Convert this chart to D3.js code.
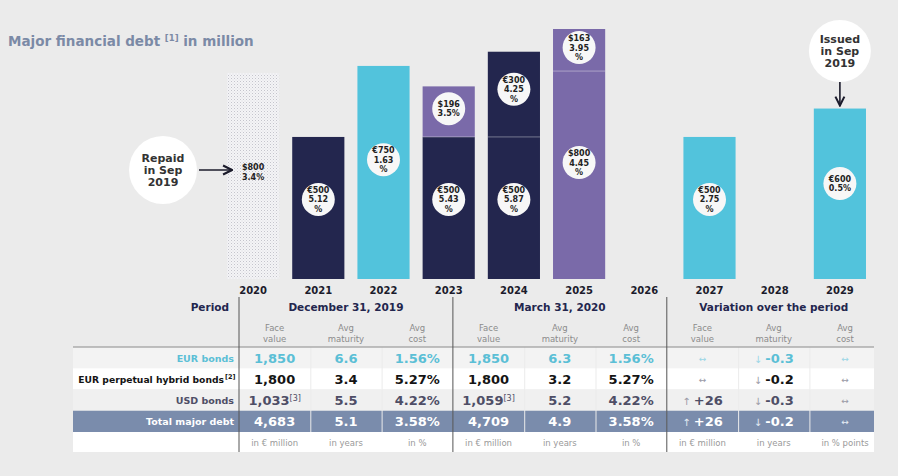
<!DOCTYPE html>
<html><head><meta charset="utf-8">
<script src="https://cdn.jsdelivr.net/npm/d3@7"></script>
<style>
html,body{margin:0;padding:0;background:#ebebeb;}
svg{display:block;font-family:"DejaVu Sans",Verdana,sans-serif;}
</style></head>
<body>
<svg id="chart" width="898" height="476"></svg>
<script>
// ---------- DATA ----------
const years = ["2020","2021","2022","2023","2024","2025","2026","2027","2028","2029"];
// bond segments (stacked per year, bottom first); heights in € million equivalent
const segYear  = ["2020","2021","2022","2023","2023","2024","2024","2025","2025","2027","2029"];
const segType  = ["repaid","hybrid","eur","hybrid","usd","hybrid","hybrid","usd","usd","eur","eur"];
const segFace  = ["$800","€500","€750","€500","$196","€500","€300","$800","$163","€500","€600"];
const segRate  = ["3.4%","5.12 %","1.63 %","5.43 %","3.5%","5.87 %","4.25 %","4.45 %","3.95 %","2.75 %","0.5%"];
const segValue = [725, 500, 750, 500, 178, 500, 300, 732, 148, 500, 600];

// table
const rowLabels = ["EUR bonds","EUR perpetual hybrid bonds","USD bonds","Total major debt"];
const rowNotes  = ["","[2]","",""];
const blockTitles = ["December 31, 2019","March 31, 2020","Variation over the period"];
const subHeaders = [["Face","value"],["Avg","maturity"],["Avg","cost"]];
const unitsLabels = ["in € million","in years","in %","in € million","in years","in %","in € million","in years","in % points"];
const dec2019Face = ["1,850","1,800","1,033","4,683"];
const dec2019Mat  = ["6.6","3.4","5.5","5.1"];
const dec2019Cost = ["1.56%","5.27%","4.22%","3.58%"];
const mar2020Face = ["1,850","1,800","1,059","4,709"];
const mar2020Mat  = ["6.3","3.2","5.2","4.9"];
const mar2020Cost = ["1.56%","5.27%","4.22%","3.58%"];
const faceNotes   = ["","","[3]",""];
const varFaceArrow = ["↔","↔","↑","↑"];
const varFace      = ["","","+26","+26"];
const varMatArrow  = ["↓","↓","↓","↓"];
const varMat       = ["-0.3","-0.2","-0.3","-0.2"];
const varCostArrow = ["↔","↔","↔","↔"];
const varCost      = ["","","",""];

// ---------- STYLE ----------
const colors = {eur:"#52c3dc", hybrid:"#23264e", usd:"#7a6aa9", repaid:"url(#dots)"};
const rowText = ["#5bbfd6","#141414","#4e4e66","#ffffff"];
const rowBg   = ["#f3f3f3","#ffffff","#f0f0f0","#7a8cac"];

const svg = d3.select("#chart");
const defs = svg.append("defs");
const pat = defs.append("pattern").attr("id","dots").attr("patternUnits","userSpaceOnUse")
  .attr("width",3).attr("height",3);
pat.append("rect").attr("width",3).attr("height",3).attr("fill","#f4f4f6");
pat.append("rect").attr("width",1).attr("height",1).attr("fill","#c4c4cc");
pat.append("rect").attr("x",1.5).attr("y",1.5).attr("width",1).attr("height",1).attr("fill","#d8d8de");
defs.append("marker").attr("id","arrow").attr("viewBox","0 0 10 10").attr("refX",9).attr("refY",5)
  .attr("markerWidth",7).attr("markerHeight",7).attr("orient","auto")
  .append("path").attr("d","M1,1 L9,5 L1,9").attr("fill","none").attr("stroke","#1b1b2b").attr("stroke-width",1.8);

// ---------- TITLE ----------
const title = svg.append("text").attr("x",8).attr("y",46).attr("fill","#7b8aa6")
  .attr("font-size",13.5).attr("font-weight","bold");
title.append("tspan").text("Major financial debt ");
title.append("tspan").attr("font-size",8.5).attr("dy",-5).text("[1]");
title.append("tspan").attr("dy",5).text(" in million");

// ---------- BARS ----------
const x = d3.scaleBand().domain(years).range([220.5, 872.5]).paddingInner(0.2).paddingOuter(0.1);
const y = d3.scaleLinear().domain([0, 880]).range([279, 29]);

const segs = segYear.map((yr,i)=>({yr, type:segType[i], face:segFace[i], rate:segRate[i], v:segValue[i]}));
const cum = {};
segs.forEach(s=>{ s.y0 = cum[s.yr]||0; s.y1 = s.y0 + s.v; cum[s.yr] = s.y1; });

const g = svg.append("g");
g.selectAll("rect.bar").data(segs).join("rect").attr("class","bar")
  .attr("x",d=>x(d.yr)).attr("width",x.bandwidth())
  .attr("y",d=>y(d.y1)).attr("height",d=>y(d.y0)-y(d.y1))
  .attr("fill",d=>colors[d.type]);
// thin divider lines between stacked segments
g.selectAll("line.div").data(segs.filter(d=>d.y0>0)).join("line")
  .attr("x1",d=>x(d.yr)).attr("x2",d=>x(d.yr)+x.bandwidth())
  .attr("y1",d=>y(d.y0)).attr("y2",d=>y(d.y0))
  .attr("stroke","rgba(255,255,255,0.35)").attr("stroke-width",1);

segs.forEach(d=>{
  const cx = x(d.yr)+x.bandwidth()/2;
  const h = y(d.y0)-y(d.y1);
  const cy = d.type==="repaid" ? (y(d.y0)+y(d.y1))/2 - 4 : y(d.y1) + 0.44*h;
  const lines = [d.face].concat(d.rate.split(" "));
  if (d.type!=="repaid") {
    g.append("circle").attr("cx",cx).attr("cy",cy).attr("r",16.5).attr("fill","#f7f7f7");
  }
  const lh = 9.5;
  lines.forEach((t,k)=>{
    g.append("text").attr("x",cx).attr("y",cy + (k-(lines.length-1)/2)*lh + 3)
      .attr("text-anchor","middle").attr("font-size",8).attr("font-weight","bold")
      .attr("fill","#222").text(t);
  });
});

// year labels
g.selectAll("text.yr").data(years).join("text").attr("class","yr")
  .attr("x",d=>x(d)+x.bandwidth()/2).attr("y",294).attr("text-anchor","middle")
  .attr("font-size",10).attr("font-weight","bold").attr("fill","#1b1b2b").text(d=>d);

// annotations
function bubble(cx,cy,r,lines){
  svg.append("circle").attr("cx",cx).attr("cy",cy).attr("r",r).attr("fill","#ffffff");
  lines.forEach((t,k)=>svg.append("text").attr("x",cx).attr("y",cy+(k-1)*12+4)
    .attr("text-anchor","middle").attr("font-size",11).attr("font-weight","bold").attr("fill","#333").text(t));
}
bubble(163,170,34,["Repaid","in Sep","2019"]);
svg.append("line").attr("x1",199).attr("x2",x("2020")+5).attr("y1",170).attr("y2",170)
  .attr("stroke","#1b1b2b").attr("stroke-width",1.6).attr("marker-end","url(#arrow)");
bubble(x("2029")+x.bandwidth()/2,51,31,["Issued","in Sep","2019"]);
svg.append("line").attr("x1",x("2029")+x.bandwidth()/2).attr("x2",x("2029")+x.bandwidth()/2)
  .attr("y1",82).attr("y2",y(600)-3)
  .attr("stroke","#1b1b2b").attr("stroke-width",1.6).attr("marker-end","url(#arrow)");

// ---------- TABLE ----------
const tL = 73, tR = 874, labelR = 239;
const col = d3.scaleBand().domain(d3.range(9)).range([labelR, labelR+71.3*9]);
const colC = i => col(i)+col.bandwidth()/2;
const rowY = d3.scaleBand().domain(d3.range(4)).range([347, 432]);
const unitsTop = 432, unitsBot = 452;
const t = svg.append("g");

// row backgrounds
rowLabels.forEach((lab,r)=>{
  t.append("rect").attr("x",tL).attr("y",rowY(r)).attr("width",labelR-tL).attr("height",rowY.bandwidth())
    .attr("fill",rowBg[r]);
  d3.range(9).forEach(c=>{
    const x0 = col(c)+ (c%3===0?0:1);
    const x1 = Math.min(col(c)+col.bandwidth(), tR);
    t.append("rect").attr("x",x0).attr("y",rowY(r)).attr("width",x1-x0).attr("height",rowY.bandwidth())
      .attr("fill",rowBg[r]);
  });
});
t.append("rect").attr("x",tL).attr("y",unitsTop).attr("width",tR-tL).attr("height",unitsBot-unitsTop).attr("fill","#ffffff");
// header divider
t.append("line").attr("x1",tL).attr("x2",tR).attr("y1",347).attr("y2",347).attr("stroke","#8a8a8a").attr("stroke-width",1);

// header texts
t.append("text").attr("x",229).attr("y",311).attr("text-anchor","end").attr("font-size",10.5)
  .attr("font-weight","bold").attr("fill","#23264e").text("Period");
blockTitles.forEach((bt,b)=>{
  t.append("text").attr("x",colC(b*3+1)).attr("y",311).attr("text-anchor","middle").attr("font-size",10.5)
    .attr("font-weight","bold").attr("fill","#23264e").text(bt);
  subHeaders.forEach((sh,k)=>{
    sh.forEach((line,li)=>t.append("text").attr("x",colC(b*3+k)).attr("y",331+li*10.5)
      .attr("text-anchor","middle").attr("font-size",8.5).attr("fill","#8c8c8c").text(line));
  });
});

// row labels
rowLabels.forEach((lab,r)=>{
  const ty = rowY(r)+rowY.bandwidth()/2+4;
  const endX = rowNotes[r] ? 224 : 234;
  t.append("text").attr("x",endX).attr("y",ty)
    .attr("text-anchor","end").attr("font-size",r===1?9.2:9.5).attr("font-weight","bold").attr("fill",rowText[r]).text(lab);
  if (rowNotes[r]) t.append("text").attr("x",endX+1).attr("y",ty-4).attr("font-size",6.5)
    .attr("font-weight","bold").attr("fill",rowText[r]).text(rowNotes[r]);
});

// values
const valCols = [dec2019Face,dec2019Mat,dec2019Cost,mar2020Face,mar2020Mat,mar2020Cost];
valCols.forEach((arr,c)=>{
  arr.forEach((v,r)=>{
    const tx = t.append("text").attr("x",colC(c)).attr("y",rowY(r)+rowY.bandwidth()/2+5)
      .attr("text-anchor","middle").attr("font-size",13).attr("font-weight","bold").attr("fill",rowText[r]);
    tx.append("tspan").text(v);
    if (c%3===0 && faceNotes[r]) tx.append("tspan").attr("font-size",8).attr("font-weight","normal").attr("dy",-4).text(faceNotes[r]);
  });
});
// variation columns
const varArrows = [varFaceArrow,varMatArrow,varCostArrow];
const varVals = [varFace,varMat,varCost];
varArrows.forEach((arrA,k)=>{
  arrA.forEach((a,r)=>{
    const v = varVals[k][r];
    const cy = rowY(r)+rowY.bandwidth()/2;
    const arrowColor = r===3 ? "#e6ecf5" : (r===0 ? "#9ad6e6" : "#9a9aa6");
    if (!v) {
      t.append("text").attr("x",colC(6+k)).attr("y",cy+4).attr("text-anchor","middle")
        .attr("font-size",9).attr("fill",arrowColor).text(a);
    } else {
      const tx = t.append("text").attr("x",colC(6+k)).attr("y",cy+5).attr("text-anchor","middle")
        .attr("font-weight","bold").attr("font-size",13).attr("fill",rowText[r]);
      tx.append("tspan").attr("font-size",10).attr("font-weight","normal").attr("fill",arrowColor).text(a+"  ");
      tx.append("tspan").text(v);
    }
  });
});
// units
unitsLabels.forEach((u,c)=>t.append("text").attr("x",colC(c)).attr("y",446).attr("text-anchor","middle")
  .attr("font-size",8.5).attr("fill","#9a9a9a").text(u));

// vertical block separators
[labelR, col(3), col(6)].forEach(xv=>t.append("line").attr("x1",xv).attr("x2",xv).attr("y1",297).attr("y2",unitsBot)
  .attr("stroke","#555").attr("stroke-width",1));
</script>
</body></html>
